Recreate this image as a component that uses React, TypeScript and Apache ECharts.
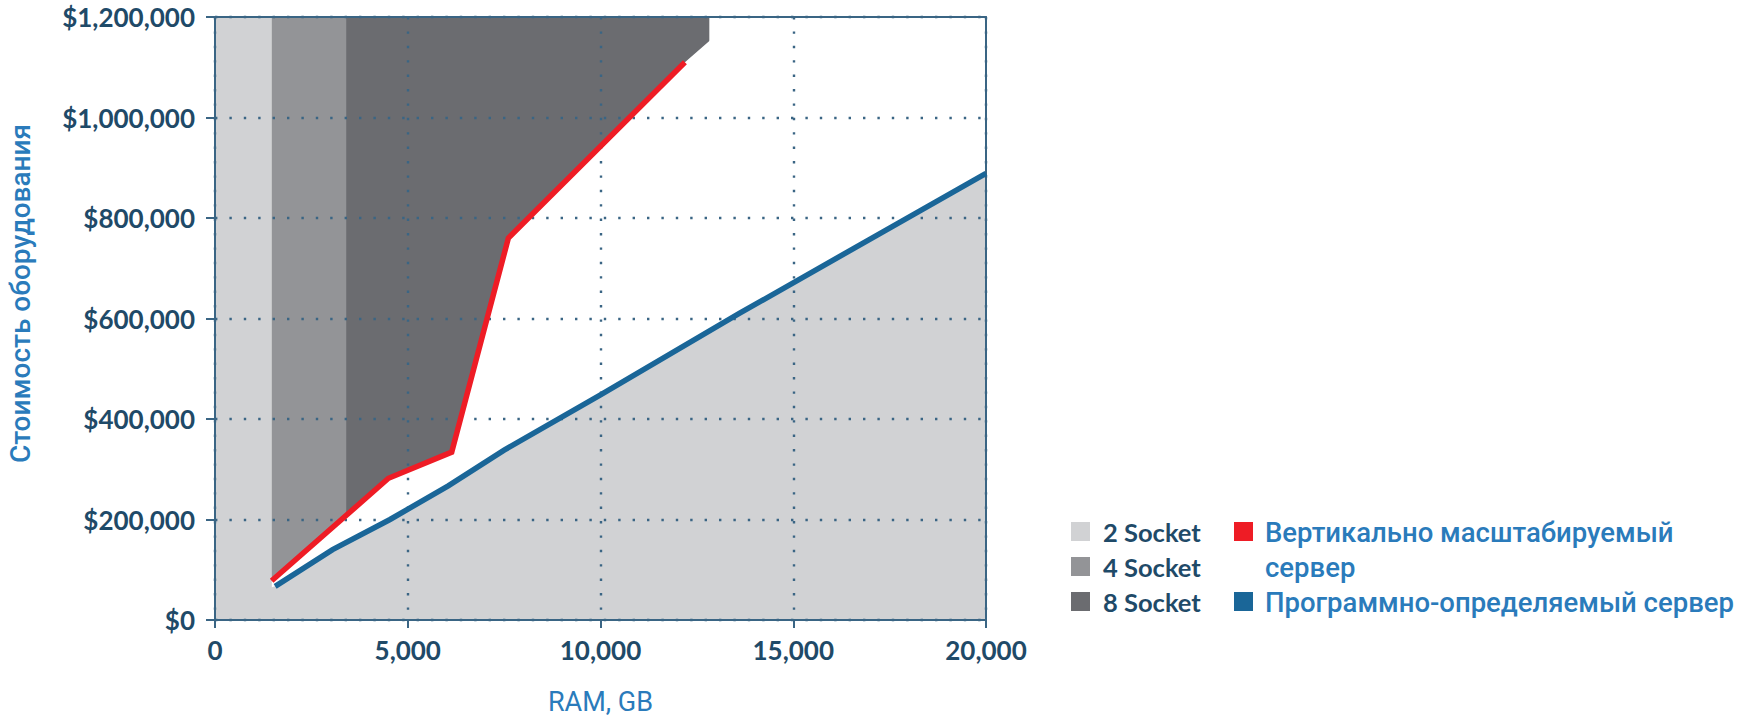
import React, { useEffect, useRef } from "react";
import * as echarts from "echarts";

// RAM (GB) boundaries of the socket zones
const socket2End = 1470;
const socket4End = 3400;
const socket8End = 12823;
const socket8CornerY = 1152000;

// Vertically scaled server (red)
const redX = [1470, 4500, 6140, 7610, 12190];
const redY = [78000, 282000, 334000, 760000, 1110000];

// Software-defined server (blue)
const blueX = [1560, 3050, 4540, 6050, 7500, 10000, 13600, 20000];
const blueY = [67000, 140000, 200000, 267000, 338000, 448000, 610000, 889000];

const yMax = 1200000;
const xMax = 20000;

const legendLeft = ["2 Socket", "4 Socket", "8 Socket"];
const legendRight = ["Вертикально масштабируемый", "сервер", "Программно-определяемый сервер"];

const C_LIGHT = "#d1d2d4";
const C_MID = "#939497";
const C_DARK = "#6b6c70";
const C_RED = "#ee1c25";
const C_BLUE = "#1a6698";
const C_AXIS = "#3a6584";
const C_TICK = "#1f4a68";
const C_NAME = "#2a7bbb";

export default function App() {
  const ref = useRef<HTMLDivElement>(null);
  useEffect(() => {
    document.body.style.margin = "0";
    const chart = echarts.init(ref.current!, null, { renderer: "svg" });
    const pts = (xs: number[], ys: number[]) => xs.map((x, i) => [x, ys[i]]);
    const redPts = pts(redX, redY);
    const bluePts = pts(blueX, blueY);
    const whitePts = [...redPts, [socket8End, socket8CornerY], [socket8End + 200, socket8CornerY + 15000]];
    const lightPts = [[socket2End - 80, blueY[0] - 4000], ...bluePts];
    const area = (name: string, data: number[][], color: string, z: number) => ({
      type: "line",
      name,
      data,
      z,
      symbol: "none",
      silent: true,
      lineStyle: { width: 0, opacity: 0 },
      areaStyle: { color, opacity: 1, origin: "start" },
      xAxisIndex: 0,
      yAxisIndex: 0,
    });
    const rowY = [532, 567, 602];
    const graphics: any[] = [];
    const leftColors = [C_LIGHT, C_MID, C_DARK];
    legendLeft.forEach((t, i) => {
      graphics.push({ type: "rect", x: 1071, y: rowY[i] - 10, shape: { width: 19, height: 19 }, style: { fill: leftColors[i] } });
      graphics.push({ type: "text", x: 1103, y: rowY[i], style: { text: t, fill: C_TICK, font: "bold 25.5px Lato", textVerticalAlign: "middle", verticalAlign: "middle" } });
    });
    graphics.push({ type: "rect", x: 1234, y: rowY[0] - 10, shape: { width: 19, height: 19 }, style: { fill: C_RED } });
    graphics.push({ type: "rect", x: 1234, y: rowY[2] - 10, shape: { width: 19, height: 19 }, style: { fill: C_BLUE } });
    legendRight.forEach((t, i) => {
      graphics.push({ type: "text", x: 1265, y: rowY[i], style: { text: t, fill: C_NAME, font: "500 27.5px Roboto", textVerticalAlign: "middle", verticalAlign: "middle" } });
    });

    chart.setOption({
      animation: false,
      backgroundColor: "#ffffff",
      grid: { left: 215, right: 763, top: 17, bottom: 94 },
      xAxis: [
        {
          type: "value",
          min: 0,
          max: xMax,
          interval: 5000,
          z: 3,
          name: "RAM, GB",
          nameLocation: "middle",
          nameGap: 68,
          nameTextStyle: { color: C_NAME, fontFamily: "Roboto", fontSize: 27 },
          axisLine: { show: true, onZero: false, lineStyle: { color: C_AXIS, width: 2 } },
          axisTick: { show: true, length: 8, lineStyle: { color: C_AXIS, width: 2 } },
          axisLabel: {
            color: C_TICK,
            fontFamily: "Lato",
            fontWeight: "bold",
            fontSize: 26,
            margin: 17,
            formatter: (v: number) => v.toLocaleString("en-US"),
          },
          splitLine: { show: true, lineStyle: { color: C_AXIS, width: 2.4, type: [2.4, 12] } },
        },
        {
          type: "value",
          position: "top",
          min: 0,
          max: xMax,
          z: 3,
          axisLine: { show: true, onZero: false, lineStyle: { color: C_AXIS, width: 2 } },
          axisTick: { show: false },
          axisLabel: { show: false },
          splitLine: { show: false },
        },
      ],
      yAxis: [
        {
          type: "value",
          min: 0,
          max: yMax,
          interval: 200000,
          z: 3,
          name: "Стоимость оборудования",
          nameLocation: "middle",
          nameRotate: 90,
          nameGap: 181,
          nameTextStyle: { color: C_NAME, fontFamily: "Roboto", fontSize: 28, fontWeight: 500, padding: [0, 0, 0, 50] },
          axisLine: { show: true, onZero: false, lineStyle: { color: C_AXIS, width: 2 } },
          axisTick: { show: true, length: 9, lineStyle: { color: C_AXIS, width: 2 } },
          axisLabel: {
            color: C_TICK,
            fontFamily: "Lato",
            fontWeight: "bold",
            fontSize: 26,
            margin: 20,
            formatter: (v: number) => "$" + v.toLocaleString("en-US"),
          },
          splitLine: { show: true, lineStyle: { color: C_AXIS, width: 2.4, type: [2.4, 12] } },
        },
        {
          type: "value",
          position: "right",
          min: 0,
          max: yMax,
          z: 3,
          axisLine: { show: true, onZero: false, lineStyle: { color: C_AXIS, width: 2 } },
          axisTick: { show: false },
          axisLabel: { show: false },
          splitLine: { show: false },
        },
      ],
      series: [
        area("2 Socket column", [[0, yMax], [socket2End, yMax]], C_LIGHT, 1),
        area("4 Socket", [[socket2End, yMax], [socket4End, yMax]], C_MID, 1),
        area("8 Socket", [[socket4End, yMax], [socket8End, yMax], [socket8End, socket8CornerY]], C_DARK, 1),
        area("white", whitePts, "#ffffff", 1),
        area("2 Socket", lightPts, C_LIGHT, 1),
        {
          type: "line",
          name: "Вертикально масштабируемый сервер",
          data: redPts,
          z: 5,
          symbol: "none",
          lineStyle: { color: C_RED, width: 5.5, join: "miter" },
        },
        {
          type: "line",
          name: "Программно-определяемый сервер",
          data: bluePts,
          z: 5,
          symbol: "none",
          lineStyle: { color: C_BLUE, width: 5.5, join: "miter" },
        },
      ],
      graphic: graphics,
    });
    return () => chart.dispose();
  }, []);
  return <div ref={ref} style={{ width: 1749, height: 720 }} />;
}
